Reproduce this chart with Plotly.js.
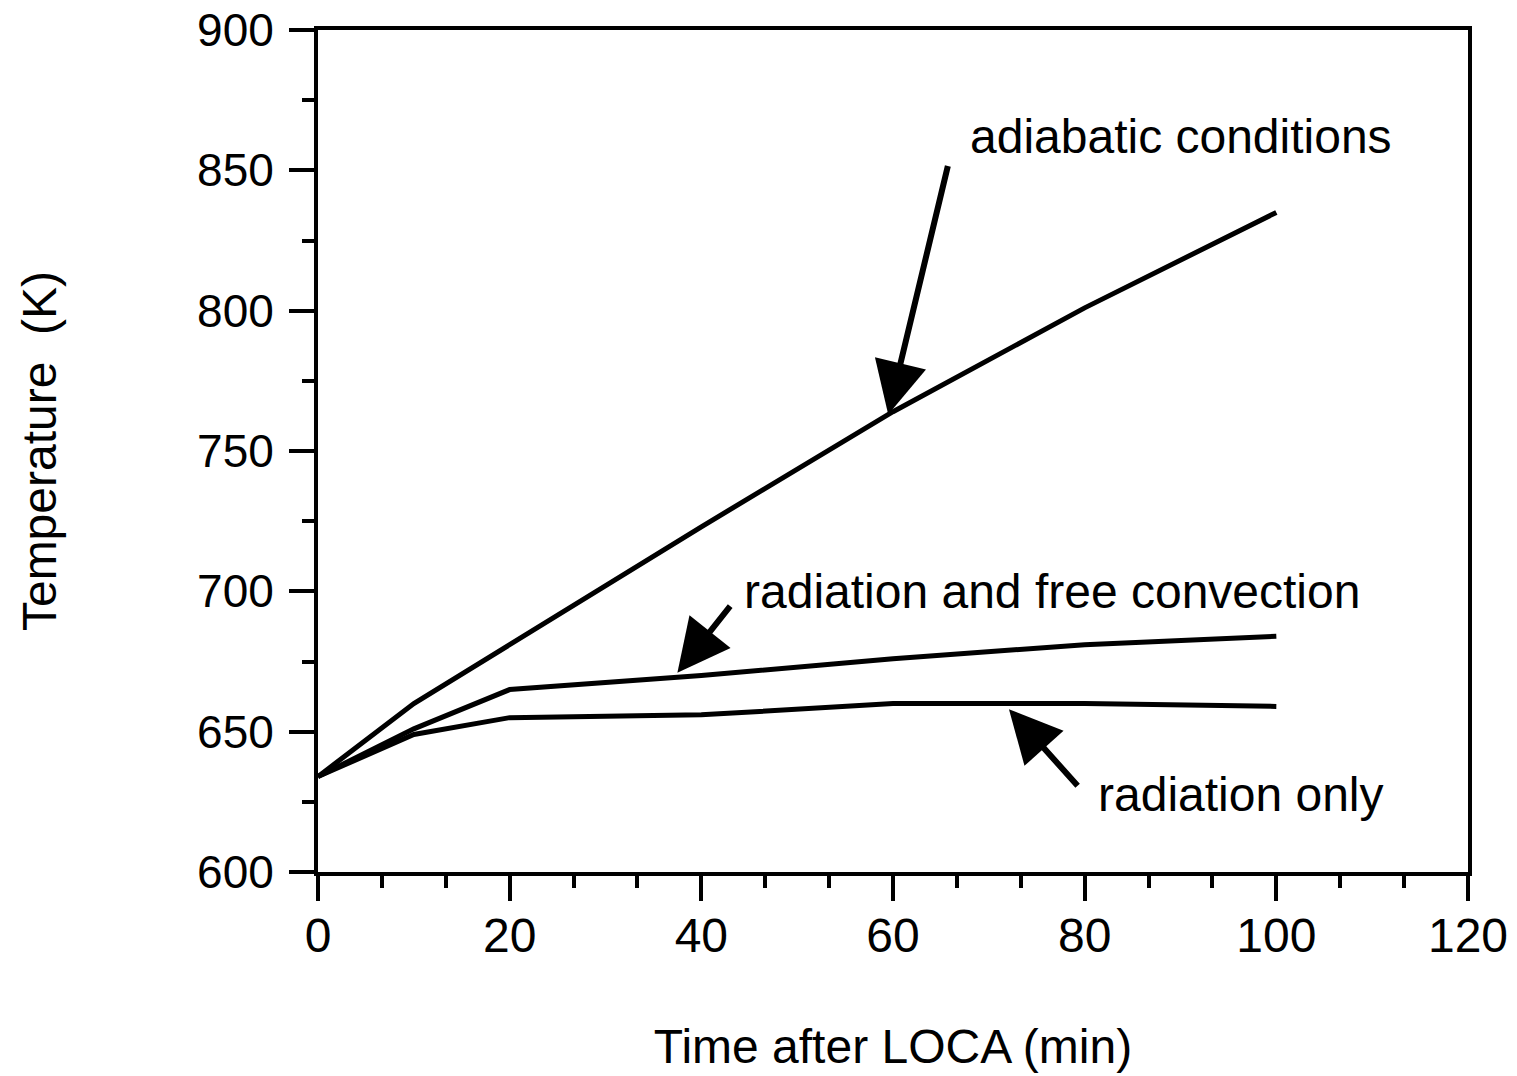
<!DOCTYPE html>
<html>
<head>
<meta charset="utf-8">
<script src="https://cdn.plot.ly/plotly-3.0.1.min.js"></script>
<style>html,body{margin:0;padding:0;background:#fff;}#chart{width:1517px;height:1076px;}</style>
</head>
<body>
<div id="chart"></div>
<script>
// Data
const timeMin = [0, 10, 20, 40, 60, 80, 100];
const adiabatic = [634, 660, 681, 723, 764, 801, 835];
const radConv = [634, 651, 665, 670, 676, 681, 684];
const radOnly = [634, 649, 655, 656, 660, 660, 659];

const seriesNames = ["adiabatic conditions", "radiation and free convection", "radiation only"];
const seriesValues = [adiabatic, radConv, radOnly];

const xTicks = [0, 20, 40, 60, 80, 100, 120];
const yTicks = [600, 650, 700, 750, 800, 850, 900];

const FONT = "Liberation Sans, Arial, Helvetica, sans-serif";

const traces = seriesValues.map((vals, i) => ({
  x: timeMin, y: vals, name: seriesNames[i],
  type: "scatter", mode: "lines",
  line: {color: "#000", width: 5},
  showlegend: false, hoverinfo: "x+y"
}));

// Arrow annotations (tip at data point, tail offset in pixels) + labels
const arrowTips = [
  {x: 59.5, y: 763, ax: 60, ay: -250},
  {x: 37.5, y: 671, ax: 54, ay: -68},
  {x: 72.1, y: 658, ax: 70, ay: 78}
];
const labelPos = [
  {x: 67.8, y: 862},
  {x: 44.2, y: 700},
  {x: 81.2, y: 627.5}
];

const annotations = [];
arrowTips.forEach(a => annotations.push({
  x: a.x, y: a.y, xref: "x", yref: "y", ax: a.ax, ay: a.ay,
  text: "", showarrow: true, arrowhead: 2, arrowsize: 1.75, arrowwidth: 6,
  arrowcolor: "#000", standoff: 0
}));
labelPos.forEach((p, i) => annotations.push({
  x: p.x, y: p.y, xref: "x", yref: "y", text: seriesNames[i],
  showarrow: false, xanchor: "left", yanchor: "middle",
  font: {family: FONT, size: 48, color: "#000"}
}));

const layout = {
  width: 1517, height: 1076,
  margin: {l: 318, r: 49, t: 30, b: 204},
  paper_bgcolor: "#fff", plot_bgcolor: "#fff",
  font: {family: FONT, color: "#000"},
  xaxis: {
    range: [0, 120], tickvals: xTicks, ticktext: xTicks.map(String),
    ticks: "outside", ticklen: 25, tickwidth: 4, tickcolor: "#000",
    minor: {dtick: 20/3, ticks: "outside", ticklen: 12, tickwidth: 4, tickcolor: "#000", showgrid: false},
    showline: true, linewidth: 4, linecolor: "#000", mirror: true,
    showgrid: false, zeroline: false,
    tickfont: {family: FONT, size: 48, color: "#000"},
    ticklabelstandoff: -7,
    title: {text: "Time after LOCA (min)", font: {family: FONT, size: 48, color: "#000"}, standoff: 70}
  },
  yaxis: {
    range: [600, 900], tickvals: yTicks, ticktext: yTicks.map(String),
    ticks: "outside", ticklen: 25, tickwidth: 4, tickcolor: "#000",
    minor: {dtick: 25, ticks: "outside", ticklen: 12, tickwidth: 4, tickcolor: "#000", showgrid: false},
    showline: true, linewidth: 4, linecolor: "#000", mirror: true,
    showgrid: false, zeroline: false,
    tickfont: {family: FONT, size: 46, color: "#000"},
    ticklabelstandoff: 6,
    title: {text: "Temperature  (K)", font: {family: FONT, size: 48, color: "#000"}, standoff: 126}
  },
  annotations: annotations
};

Plotly.newPlot("chart", traces, layout, {displayModeBar: false, staticPlot: true});
</script>
</body>
</html>
